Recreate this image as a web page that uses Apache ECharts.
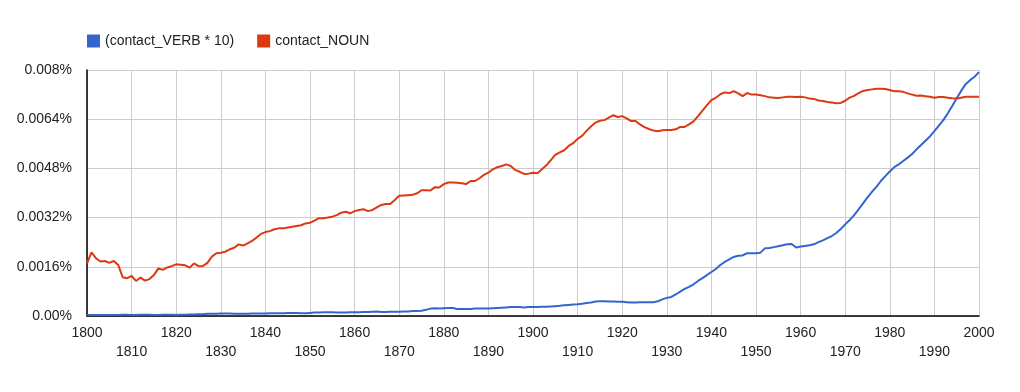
<!DOCTYPE html>
<html>
<head>
<meta charset="utf-8">
<script src="https://cdn.jsdelivr.net/npm/echarts@6/dist/echarts.min.js"></script>
<style>
html,body{margin:0;padding:0;background:#fff;}
#chart{width:1020px;height:392px;}
</style>
</head>
<body>
<div id="chart"></div>
<script>
const seriesNames = ['(contact_VERB * 10)', 'contact_NOUN'];
const startYear = 1800;
const yTickLabels = ['0.00%', '0.0016%', '0.0032%', '0.0048%', '0.0064%', '0.008%'];

const verbValues = [
  0.00003,0.00003,0.00003,0.00003,0.00003,0.00003,0.00003,0.00003,0.00004,0.00004,
  0.00003,0.00003,0.00004,0.00004,0.00004,0.00003,0.00003,0.00004,0.00004,0.00004,
  0.00003,0.00004,0.00004,0.00005,0.00005,0.00006,0.00006,0.00007,0.00007,0.00007,
  0.00008,0.00008,0.00008,0.00007,0.00007,0.00007,0.00007,0.00008,0.00008,0.00008,
  0.00008,0.00009,0.00009,0.00009,0.00009,0.00010,0.00010,0.00010,0.00009,0.00009,
  0.00010,0.00011,0.00011,0.00012,0.00012,0.00012,0.00011,0.00011,0.00011,0.00012,
  0.00012,0.00012,0.00013,0.00013,0.00014,0.00015,0.00013,0.00013,0.00014,0.00014,
  0.00014,0.00015,0.00015,0.00016,0.00016,0.00017,0.00020,0.00024,0.00025,0.00024,
  0.00025,0.00026,0.00026,0.00023,0.00023,0.00023,0.00023,0.00024,0.00024,0.00024,
  0.00024,0.00025,0.00026,0.00027,0.00028,0.00029,0.00029,0.00029,0.00028,0.00029,
  0.00029,0.00029,0.00030,0.00030,0.00031,0.00032,0.00033,0.00035,0.00036,0.00037,
  0.00038,0.00040,0.00042,0.00044,0.00047,0.00048,0.00048,0.00047,0.00047,0.00046,
  0.00046,0.00045,0.00044,0.00044,0.00045,0.00045,0.00045,0.00045,0.00048,0.00054,
  0.00059,0.00062,0.00070,0.00079,0.00088,0.00095,0.00103,0.00114,0.00123,0.00133,
  0.00143,0.00153,0.00166,0.00176,0.00184,0.00192,0.00196,0.00197,0.00204,0.00204,
  0.00204,0.00206,0.00220,0.00221,0.00224,0.00227,0.00230,0.00233,0.00234,0.00223,
  0.00226,0.00228,0.00230,0.00233,0.00240,0.00246,0.00253,0.00260,0.00270,0.00283,
  0.00298,0.00312,0.00328,0.00347,0.00366,0.00386,0.00404,0.00420,0.00439,0.00455,
  0.00470,0.00484,0.00493,0.00504,0.00515,0.00527,0.00542,0.00556,0.00570,0.00584,
  0.00601,0.00619,0.00637,0.00659,0.00683,0.00708,0.00732,0.00754,0.00767,0.00778,
  0.00793
];

const nounValues = [
  0.00171,0.00207,0.00188,0.00177,0.00179,0.00173,0.00179,0.00166,0.00126,0.00123,
  0.00130,0.00114,0.00125,0.00115,0.00120,0.00133,0.00155,0.00150,0.00158,0.00162,
  0.00168,0.00167,0.00165,0.00157,0.00171,0.00162,0.00163,0.00173,0.00193,0.00204,
  0.00206,0.00209,0.00217,0.00222,0.00233,0.00229,0.00236,0.00244,0.00255,0.00267,
  0.00273,0.00276,0.00282,0.00285,0.00285,0.00288,0.00290,0.00293,0.00295,0.00301,
  0.00303,0.00310,0.00318,0.00318,0.00320,0.00323,0.00328,0.00336,0.00339,0.00334,
  0.00341,0.00345,0.00347,0.00341,0.00345,0.00353,0.00361,0.00364,0.00364,0.00377,
  0.00391,0.00392,0.00393,0.00394,0.00399,0.00409,0.00409,0.00408,0.00419,0.00418,
  0.00429,0.00434,0.00434,0.00433,0.00432,0.00429,0.00439,0.00439,0.00448,0.00459,
  0.00466,0.00477,0.00484,0.00488,0.00493,0.00488,0.00475,0.00469,0.00462,0.00463,
  0.00466,0.00464,0.00477,0.00490,0.00507,0.00524,0.00532,0.00539,0.00553,0.00562,
  0.00576,0.00586,0.00602,0.00616,0.00629,0.00635,0.00637,0.00645,0.00653,0.00647,
  0.00650,0.00643,0.00634,0.00634,0.00623,0.00614,0.00608,0.00603,0.00601,0.00604,
  0.00605,0.00605,0.00607,0.00615,0.00615,0.00623,0.00633,0.00650,0.00668,0.00686,
  0.00702,0.00710,0.00721,0.00727,0.00725,0.00731,0.00724,0.00715,0.00725,0.00720,
  0.00720,0.00718,0.00715,0.00711,0.00710,0.00709,0.00711,0.00713,0.00713,0.00712,
  0.00713,0.00711,0.00707,0.00706,0.00701,0.00699,0.00696,0.00694,0.00692,0.00693,
  0.00700,0.00710,0.00716,0.00725,0.00732,0.00735,0.00737,0.00739,0.00739,0.00738,
  0.00735,0.00731,0.00731,0.00729,0.00724,0.00720,0.00716,0.00717,0.00715,0.00713,
  0.00710,0.00712,0.00712,0.00710,0.00708,0.00707,0.00710,0.00713,0.00713,0.00713,
  0.00713
];

const toPairs = arr => arr.map((v, i) => [startYear + i, v]);

const chart = echarts.init(document.getElementById('chart'), null, {renderer: 'canvas'});
const font = '"Liberation Sans", Arial, Helvetica, sans-serif';

chart.setOption({
  animation: false,
  backgroundColor: '#ffffff',
  color: ['#3366cc', '#dc3912'],
  textStyle: {fontFamily: font},
  legend: {
    left: 87, top: 34,
    padding: 0,
    icon: 'rect',
    itemWidth: 13, itemHeight: 13,
    itemGap: 23,
    textStyle: {fontFamily: font, fontSize: 14, color: '#222'},
    data: seriesNames
  },
  grid: {left: 87, right: 41, top: 70, bottom: 76, containLabel: false},
  xAxis: {
    type: 'value', min: 1800, max: 2000, interval: 10,
    axisLine: {show: true, onZero: false, lineStyle: {color: '#000', width: 1.5}},
    axisTick: {show: false},
    splitLine: {show: true, lineStyle: {color: '#cccccc', width: 1}},
    axisLabel: {
      fontFamily: font, fontSize: 14, color: '#222', margin: 8, lineHeight: 19,
      showMinLabel: true, showMaxLabel: true,
      formatter: v => (((v - startYear) / 10) % 2 === 1 ? '\n' + v : String(v))
    }
  },
  yAxis: {
    type: 'value', min: 0, max: 0.008, interval: 0.0016,
    axisLine: {show: true, lineStyle: {color: '#000', width: 1.5}},
    axisTick: {show: false},
    splitLine: {show: true, lineStyle: {color: '#cccccc', width: 1}},
    axisLabel: {
      fontFamily: font, fontSize: 14, color: '#222', margin: 15,
      formatter: v => yTickLabels[Math.round(v / 0.0016)]
    }
  },
  series: [
    {name: seriesNames[0], type: 'line', data: toPairs(verbValues), showSymbol: false,
     lineStyle: {width: 2, color: '#3366cc'}, itemStyle: {color: '#3366cc'}},
    {name: seriesNames[1], type: 'line', data: toPairs(nounValues), showSymbol: false,
     lineStyle: {width: 2, color: '#dc3912'}, itemStyle: {color: '#dc3912'}}
  ]
});
</script>
</body>
</html>
